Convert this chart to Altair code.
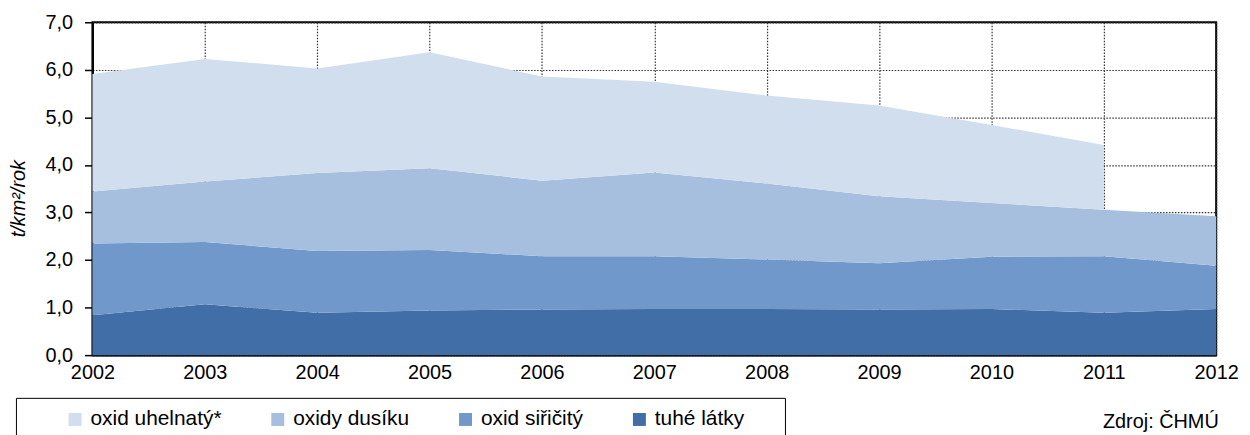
import altair as alt
import pandas as pd

years = [2002, 2003, 2004, 2005, 2006, 2007, 2008, 2009, 2010, 2011, 2012]
tuhe_latky = [0.84, 1.07, 0.89, 0.94, 0.96, 0.97, 0.97, 0.96, 0.97, 0.89, 0.97]
oxid_siricity = [1.51, 1.31, 1.30, 1.27, 1.12, 1.11, 1.04, 0.97, 1.10, 1.19, 0.91]
oxidy_dusiku = [1.09, 1.27, 1.64, 1.72, 1.59, 1.76, 1.60, 1.41, 1.13, 0.98, 1.04]
oxid_uhelnaty = [2.47, 2.58, 2.20, 2.44, 2.19, 1.91, 1.85, 1.91, 1.64, 1.36, None]

legend_order = ["oxid uhelnatý*", "oxidy dusíku", "oxid siřičitý", "tuhé látky"]
colors = ["#D1DEEE", "#A7BFDF", "#7098CB", "#416EA7"]
y_ticks = [0, 1, 2, 3, 4, 5, 6, 7]

FONT = "Liberation Sans"

rows = []
for i, yr in enumerate(years):
    base = 0.0
    for name, vals in [("tuhé látky", tuhe_latky), ("oxid siřičitý", oxid_siricity),
                       ("oxidy dusíku", oxidy_dusiku), ("oxid uhelnatý*", oxid_uhelnaty)]:
        v = vals[i]
        if v is None:
            continue
        rows.append({"rok": yr, "serie": name, "lo": base, "hi": base + v})
        base += v
df = pd.DataFrame(rows)

grid_dash = [1.5, 1.5]

area = alt.Chart(df).mark_area(interpolate="linear", strokeWidth=0).encode(
    x=alt.X("rok:Q",
            scale=alt.Scale(domain=[2002, 2012], nice=False, zero=False),
            axis=alt.Axis(values=years, format="d", labelFlush=False, labelOverlap=False,
                          ticks=False, tickSize=0, labelPadding=8, title=None,
                          grid=True, gridDash=grid_dash, gridColor="#333333", gridWidth=1.2,
                          domainColor="black", domainWidth=2,
                          labelFontSize=20, labelFont=FONT, labelColor="black")),
    y=alt.Y("hi:Q",
            scale=alt.Scale(domain=[0, 7], nice=False, zero=True),
            axis=alt.Axis(values=y_ticks,
                          labelExpr="replace(format(datum.value, '.1f'), '.', ',')",
                          title="t/km²/rok", titleFontStyle="italic", titleFontWeight="normal",
                          titleFontSize=20, titleFont=FONT, titleColor="black",
                          titleX=-74, titleY=177, titleBaseline="middle", titleAngle=270,
                          grid=True, gridDash=grid_dash, gridColor="#333333", gridWidth=1.2,
                          domainColor="black", domainWidth=2,
                          tickColor="black", tickWidth=1.5, tickSize=8, labelPadding=12,
                          labelFontSize=20, labelFont=FONT, labelColor="black")),
    y2="lo:Q",
    color=alt.Color("serie:N",
                    scale=alt.Scale(domain=legend_order, range=colors),
                    legend=alt.Legend(orient="none", legendX=-77, legendY=378,
                                      direction="horizontal", title="\u00a0", titleOrient="left",
                                      titleFontSize=11, titlePadding=38,
                                      strokeColor="black", padding=11,
                                      symbolType="square", symbolSize=170, symbolStrokeWidth=0,
                                      labelFontSize=21, labelFont=FONT, labelColor="black",
                                      labelOffset=5, columnPadding=46, labelLimit=400,
                                      labelExpr="datum.label == 'tuhé látky' ? datum.label + '\u00a0\u00a0\u00a0\u00a0\u00a0\u200b' : datum.label")),
)

source = alt.Chart(pd.DataFrame({"t": ["Zdroj: ČHMÚ"]})).mark_text(
    align="left", baseline="alphabetic", fontSize=20, font=FONT, color="black"
).encode(text="t:N", x=alt.value(1017), y=alt.value(408))

chart = alt.layer(area, source).properties(
    width=1131, height=335,
    padding={"left": 85, "top": 13, "right": 26, "bottom": 79},
    autosize="none",
).configure_view(stroke="black", strokeWidth=2)

chart.save("out.html", embed_options={"renderer": "svg", "actions": False})
